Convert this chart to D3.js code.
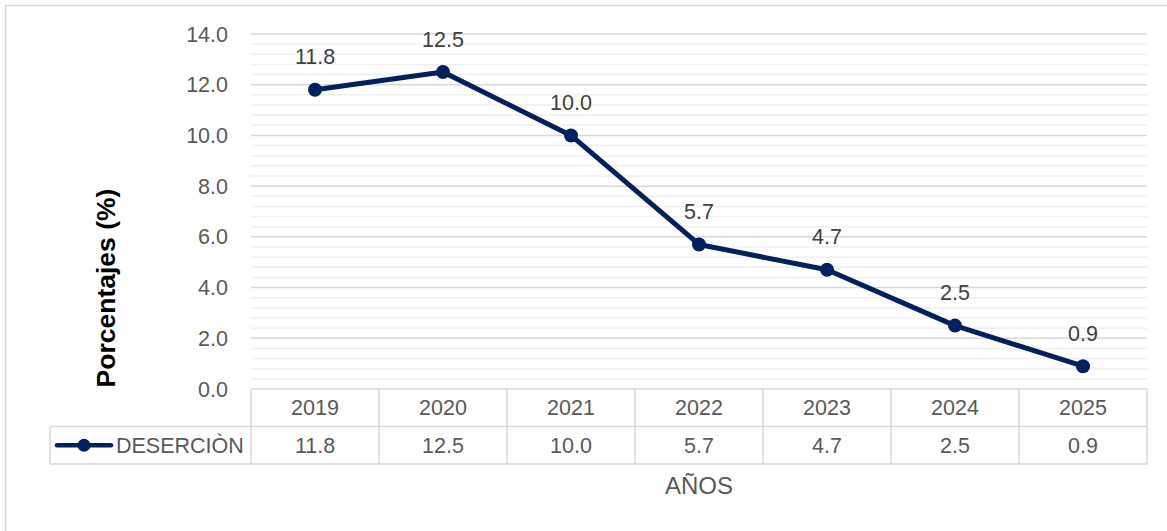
<!DOCTYPE html>
<html lang="es">
<head>
<meta charset="UTF-8">
<title>Deserción</title>
<script src="https://d3js.org/d3.v7.min.js"></script>
<style>
  body { margin: 0; background: #fff; }
  text { font-family: "Liberation Sans", Arial, sans-serif; }
</style>
</head>
<body>
<script>
// data
const years = ['2019', '2020', '2021', '2022', '2023', '2024', '2025'];
const desercion = [11.8, 12.5, 10.0, 5.7, 4.7, 2.5, 0.9];
const seriesName = 'DESERCIÒN';
const yTicks = [0, 2, 4, 6, 8, 10, 12, 14];

const width = 1167, height = 531;
const plot = { left: 251, right: 1147, top: 34, bottom: 389 };
const rowH = 37.5;
const fs = 21.5;

const svg = d3.select('body').append('svg')
  .attr('width', width)
  .attr('height', height);

// chart frame
svg.append('path')
  .attr('d', `M5.5,${height} V5.5 H${width}`)
  .attr('fill', 'none')
  .attr('stroke', '#d9d9d9')
  .attr('stroke-width', 1.5);

const x = d3.scaleBand().domain(years).range([plot.left, plot.right]);
const y = d3.scaleLinear().domain([0, 14]).range([plot.bottom, plot.top]);

// minor gridlines
const minor = d3.range(0, 14.01, 0.4).filter(v => Math.abs(v / 2 - Math.round(v / 2)) > 0.01);
svg.append('g').selectAll('line').data(minor).enter().append('line')
  .attr('x1', plot.left).attr('x2', plot.right)
  .attr('y1', d => y(d)).attr('y2', d => y(d))
  .attr('stroke', '#f0f0f0').attr('stroke-width', 1.5);

// major gridlines
svg.append('g').selectAll('line').data(yTicks.filter(d => d > 0)).enter().append('line')
  .attr('x1', plot.left).attr('x2', plot.right)
  .attr('y1', d => y(d)).attr('y2', d => y(d))
  .attr('stroke', '#d9d9d9').attr('stroke-width', 1.5);

// y axis tick labels
svg.append('g').selectAll('text').data(yTicks).enter().append('text')
  .attr('x', 228)
  .attr('y', d => y(d))
  .attr('dy', '0.35em')
  .attr('text-anchor', 'end')
  .attr('font-size', fs)
  .attr('fill', '#595959')
  .text(d => d.toFixed(1));

// y axis title
svg.append('text')
  .attr('transform', `translate(115,288) rotate(-90)`)
  .attr('text-anchor', 'middle')
  .attr('font-size', 26.5)
  .attr('font-weight', 'bold')
  .attr('fill', '#000')
  .text('Porcentajes (%)');

// data table
const t = svg.append('g').attr('stroke', '#d9d9d9').attr('stroke-width', 1.5).attr('fill', 'none');
const r0 = plot.bottom, r1 = r0 + rowH, r2 = r1 + rowH;
t.append('line').attr('x1', plot.left).attr('x2', plot.right).attr('y1', r0).attr('y2', r0);
t.append('line').attr('x1', 50).attr('x2', plot.right).attr('y1', r1).attr('y2', r1);
t.append('line').attr('x1', 50).attr('x2', plot.right).attr('y1', r2).attr('y2', r2);
t.append('line').attr('x1', 50).attr('x2', 50).attr('y1', r1).attr('y2', r2);
t.selectAll('.col').data(years.concat(['end'])).enter().append('line')
  .attr('x1', (d, i) => plot.left + i * x.bandwidth())
  .attr('x2', (d, i) => plot.left + i * x.bandwidth())
  .attr('y1', r0).attr('y2', r2);

svg.append('g').selectAll('text').data(years).enter().append('text')
  .attr('x', d => x(d) + x.bandwidth() / 2)
  .attr('y', (r0 + r1) / 2)
  .attr('dy', '0.35em')
  .attr('text-anchor', 'middle')
  .attr('font-size', fs)
  .attr('fill', '#595959')
  .text(d => d);

svg.append('g').selectAll('text').data(desercion).enter().append('text')
  .attr('x', (d, i) => x(years[i]) + x.bandwidth() / 2)
  .attr('y', (r1 + r2) / 2)
  .attr('dy', '0.35em')
  .attr('text-anchor', 'middle')
  .attr('font-size', fs)
  .attr('fill', '#595959')
  .text(d => d.toFixed(1));

// legend key in table
const navy = '#002060';
svg.append('line')
  .attr('x1', 57).attr('x2', 111)
  .attr('y1', (r1 + r2) / 2).attr('y2', (r1 + r2) / 2)
  .attr('stroke', navy).attr('stroke-width', 4.5).attr('stroke-linecap', 'round');
svg.append('circle')
  .attr('cx', 84).attr('cy', (r1 + r2) / 2).attr('r', 6.5).attr('fill', navy);
svg.append('text')
  .attr('x', 116).attr('y', (r1 + r2) / 2)
  .attr('dy', '0.35em')
  .attr('font-size', fs)
  .attr('fill', '#595959')
  .text(seriesName);

// x axis title
svg.append('text')
  .attr('x', (plot.left + plot.right) / 2)
  .attr('y', 486)
  .attr('dy', '0.35em')
  .attr('text-anchor', 'middle')
  .attr('font-size', 24)
  .attr('fill', '#595959')
  .text('AÑOS');

// line
const pts = desercion.map((v, i) => [x(years[i]) + x.bandwidth() / 2, y(v)]);
svg.append('path')
  .attr('d', d3.line()(pts))
  .attr('fill', 'none')
  .attr('stroke', navy)
  .attr('stroke-width', 5)
  .attr('stroke-linejoin', 'round');

svg.append('g').selectAll('circle').data(pts).enter().append('circle')
  .attr('cx', d => d[0]).attr('cy', d => d[1]).attr('r', 7).attr('fill', navy);

// data labels
svg.append('g').selectAll('text').data(desercion).enter().append('text')
  .attr('x', (d, i) => pts[i][0])
  .attr('y', (d, i) => pts[i][1] - 33)
  .attr('dy', '0.35em')
  .attr('text-anchor', 'middle')
  .attr('font-size', fs)
  .attr('fill', '#404040')
  .text(d => d.toFixed(1));
</script>
</body>
</html>
